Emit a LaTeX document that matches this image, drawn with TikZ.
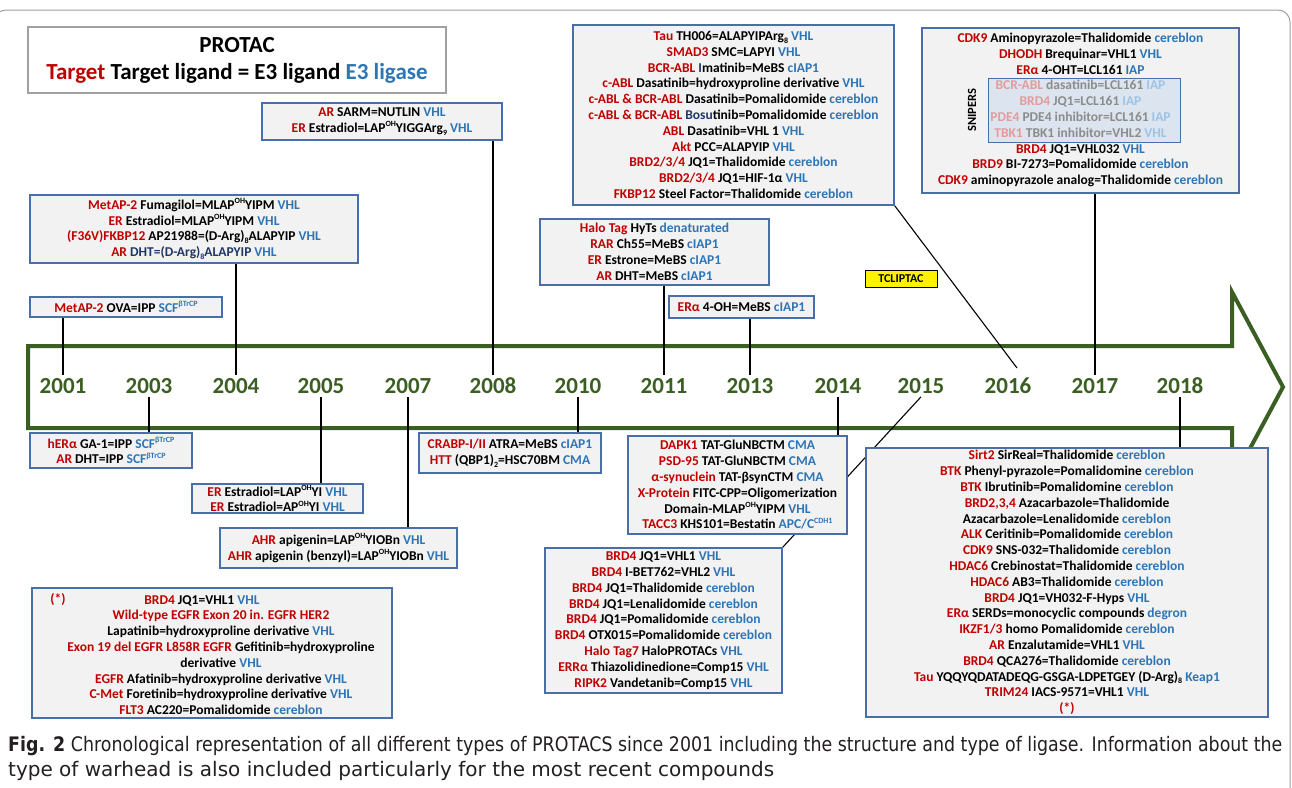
\documentclass[tikz,border=0pt]{standalone}
\usepackage{fontspec}
\usepackage{graphicx}
\setmainfont{Carlito}
\newfontfamily\capfont{DejaVu Sans}
\pgfdeclarelayer{back}
\pgfdeclarelayer{mid}
\pgfsetlayers{back,mid,main}
\definecolor{tred}{HTML}{C00000}
\definecolor{eblue}{HTML}{2E75B6}
\definecolor{navy}{HTML}{1F3864}
\definecolor{boxblue}{HTML}{4A6EA8}
\definecolor{boxfill}{HTML}{F2F2F2}
\definecolor{dgreen}{HTML}{3B5E23}
\definecolor{fred}{HTML}{E39B9B}
\definecolor{fgray}{HTML}{8C8C8C}
\definecolor{fblue}{HTML}{9DC3E6}
\definecolor{snipfill}{HTML}{DCE4EF}
\definecolor{framegray}{HTML}{A0A0A0}
\definecolor{capgray}{HTML}{231F20}
\newcommand{\tgt}[1]{\textcolor{tred}{#1}}
\newcommand{\lig}[1]{\textcolor{eblue}{#1}}
\newcommand{\fr}[1]{\textcolor{fred}{#1}}
\newcommand{\fg}[1]{\textcolor{fgray}{#1}}
\newcommand{\fb}[1]{\textcolor{fblue}{#1}}
\newcommand{\sups}[1]{\raisebox{0.42em}{\fontsize{8}{8}\selectfont #1}}
\newcommand{\subs}[1]{\raisebox{-0.22em}{\fontsize{8}{8}\selectfont #1}}
\tikzset{
  boxfont/.style={font=\fontsize{13.5}{15.8}\selectfont\bfseries},
  pbox/.style={draw=boxblue, line width=1.3pt, fill=boxfill, align=center, inner sep=0pt, boxfont},
  ptext/.style={align=center, inner sep=0pt, boxfont},
  sz/.style n args={2}{minimum width=#1pt, minimum height=#2pt},
  conn/.style={black, line width=1.1pt},
  yr/.style={font=\fontsize{23}{23}\selectfont\bfseries, text=dgreen, inner sep=3pt},
  captext/.style={anchor=base west, inner sep=0pt, font=\capfont\fontsize{20}{24}\selectfont, text=capgray},
}
\begin{document}
\begin{tikzpicture}[x=1pt,y=-1pt]
\useasboundingbox (0,0) rectangle (1292,787);
% frame
\draw[framegray, line width=1pt, rounded corners=12pt] (-6,10) rectangle (1290,800);
% arrow
\begin{pgfonlayer}{back}
\draw[dgreen, line width=4pt, fill=white, line join=miter] (28,346) -- (1232,346) -- (1232,292) -- (1283,387) -- (1232,482) -- (1232,428) -- (28,428) -- cycle;
\end{pgfonlayer}
% years
\node[yr] (y2001) at (63,386) {2001};
\node[yr] (y2003) at (149,386) {2003};
\node[yr] (y2004) at (236,386) {2004};
\node[yr] (y2005) at (321,386) {2005};
\node[yr] (y2007) at (408,386) {2007};
\node[yr] (y2008) at (493,386) {2008};
\node[yr] (y2010) at (578,386) {2010};
\node[yr] (y2011) at (664,386) {2011};
\node[yr] (y2013) at (750,386) {2013};
\node[yr] (y2014) at (838,386) {2014};
\node[yr] (y2015) at (921,386) {2015};
\node[yr] (y2016) at (1008,386) {2016};
\node[yr] (y2017) at (1095,386) {2017};
\node[yr] (y2018) at (1180,386) {2018};
\coordinate (c2016) at (1017,368);
% legend
\node[draw=framegray, line width=1.3pt, fill=white, align=center, inner sep=0pt, sz={418}{66}, font=\fontsize{23}{27}\selectfont\bfseries] (leg) at (237,60)
 {PROTAC\\ \tgt{Target} Target ligand = E3 ligand \lig{E3 ligase}};
% boxes above
\node[pbox, sz={240}{37}] (b2008) at (382,121.5)
 {\tgt{AR} SARM=NUTLIN \lig{VHL}\\
  \tgt{ER} Estradiol=LAP\sups{OH}YIGGArg\subs{9} \lig{VHL}};
\node[pbox, sz={328}{68}] (b2004) at (194,229)
 {\tgt{MetAP-2} Fumagilol=MLAP\sups{OH}YIPM \lig{VHL}\\
  \tgt{ER} Estradiol=MLAP\sups{OH}YIPM \lig{VHL}\\
  \tgt{(F36V)FKBP12} AP21988=(D-Arg)\subs{8}ALAPYIP \lig{VHL}\\
  \tgt{AR} \textcolor{navy}{DHT=(D-Arg)\subs{8}ALAPYIP} \lig{VHL}};
\node[pbox, sz={192}{20}] (b2001) at (126,307)
 {\tgt{MetAP-2} OVA=IPP \lig{SCF\sups{βTrCP}}};
\node[pbox, sz={321}{180}] (btop) at (733.5,115)
 {\tgt{Tau} TH006=ALAPYIPArg\subs{8} \lig{VHL}\\
  \tgt{SMAD3} SMC=LAPYI \lig{VHL}\\
  \tgt{BCR-ABL} \textcolor{navy}{I}matinib=MeBS \lig{cIAP1}\\
  \tgt{c-ABL} Dasatinib=hydroxyproline derivative \lig{VHL}\\
  \tgt{c-ABL \& BCR-ABL} Dasatinib=Pomalidomide \lig{cereblon}\\
  \tgt{c-ABL \& BCR-ABL} \textcolor{navy}{Bosu}tinib=Pomalidomide \lig{cereblon}\\
  \tgt{ABL} Dasatinib=VHL 1 \lig{VHL}\\
  \tgt{Akt} PCC=ALAPYIP \lig{VHL}\\
  \tgt{BRD2/3/4} JQ1=Thalidomide \lig{cereblon}\\
  \tgt{BRD2/3/4} JQ1=HIF-1α \lig{VHL}\\
  \tgt{FKBP12} Steel Factor=Thalidomide \lig{cereblon}};
\node[pbox, sz={229}{66}] (bhalo) at (654.5,252)
 {\tgt{Halo Tag} HyTs \lig{denaturated}\\
  \tgt{RAR} Ch55=MeBS \lig{cIAP1}\\
  \tgt{ER} Estrone=MeBS \lig{cIAP1}\\
  \tgt{AR} DHT=MeBS \lig{cIAP1}};
\node[pbox, sz={145}{22}] (b2013) at (741.5,307)
 {\tgt{ERα} 4-OH=MeBS \lig{cIAP1}};
\node[draw=black, line width=0.8pt, fill=yellow, inner sep=0pt, sz={72}{17}, font=\fontsize{12}{12}\selectfont\bfseries] (tcl) at (901,278.5) {TCLIPTAC};
\node[pbox, sz={317}{165}] (b2017) at (1080.5,110.5) {};
\node[draw=boxblue, line width=1pt, fill=snipfill, inner sep=0pt, sz={192}{64}] (snip) at (1084,110) {};
\node[ptext] (t2017) at (1080.5,110)
 {\tgt{CDK9} Aminopyrazole=Thalidomide \lig{cereblon}\\
  \tgt{DHODH} Brequinar=VHL1 \lig{VHL}\\
  \tgt{ERα} 4-OHT=LCL161 \lig{IAP}\\
  \fr{BCR-ABL} \fg{dasatinib=LCL161} \fb{IAP}\\
  \fr{BRD4} \fg{JQ1=LCL161} \fb{IAP}\\
  \fr{PDE4} \fg{PDE4 inhibitor=LCL161} \fb{IAP}\\
  \fr{TBK1} \fg{TBK1 inhibitor=VHL2} \fb{VHL}\\
  \tgt{BRD4} JQ1=VHL032 \lig{VHL}\\
  \tgt{BRD9} BI-7273=Pomalidomide \lig{cereblon}\\
  \tgt{CDK9} aminopyrazole analog=Thalidomide \lig{cereblon}};
\node[rotate=90, inner sep=0pt, font=\fontsize{12.5}{12.5}\selectfont\bfseries] (snipL) at (972,110) {SNIPERS};
% boxes below
\node[pbox, sz={162}{35}] (b2003) at (111,450.5)
 {\tgt{hERα} GA-1=IPP \lig{SCF\sups{βTrCP}}\\
  \tgt{AR} DHT=IPP \lig{SCF\sups{βTrCP}}};
\node[pbox, sz={171}{29}] (b2005) at (277.5,498.5)
 {\tgt{ER} Estradiol=LAP\sups{OH}YI \lig{VHL}\\
  \tgt{ER} Estradiol=AP\sups{OH}YI \lig{VHL}};
\node[pbox, sz={237}{40}] (b2007) at (338.5,548)
 {\tgt{AHR} apigenin=LAP\sups{OH}YIOBn \lig{VHL}\\
  \tgt{AHR} apigenin (benzyl)=LAP\sups{OH}YIOBn \lig{VHL}};
\node[pbox, sz={182}{40}] (b2010) at (510,453)
 {\tgt{CRABP-I/II} ATRA=MeBS \lig{cIAP1}\\
  \tgt{HTT} (QBP1)\subs{2}=HSC70BM \lig{CMA}};
\node[pbox, sz={219}{98}] (b2014) at (737.5,485)
 {\tgt{DAPK1} TAT-GluNBCTM \lig{CMA}\\
  \tgt{PSD-95} TAT-GluNBCTM \lig{CMA}\\
  \tgt{α-synuclein} TAT-βsynCTM \lig{CMA}\\
  \tgt{X-Protein} FITC-CPP=Oligomerization\\
  Domain-MLAP\sups{OH}YIPM \lig{VHL}\\
  \tgt{TACC3} KHS101=Bestatin \lig{APC/C\sups{CDH1}}};
\node[pbox, sz={237}{145}] (bmid) at (663.5,620.5)
 {\tgt{BRD4} JQ1=VHL1 \lig{VHL}\\
  \tgt{BRD4} I-BET762=VHL2 \lig{VHL}\\
  \tgt{BRD4} JQ1=Thalidomide \lig{cereblon}\\
  \tgt{BRD4} JQ1=Lenalidomide \lig{cereblon}\\
  \tgt{BRD4} JQ1=Pomalidomide \lig{cereblon}\\
  \tgt{BRD4} OTX015=Pomalidomide \lig{cereblon}\\
  \tgt{Halo Tag7} HaloPROTACs \lig{VHL}\\
  \tgt{ERRα} Thiazolidinedione=Comp15 \lig{VHL}\\
  \tgt{RIPK2} Vandetanib=Comp15 \lig{VHL}};
\node[pbox, sz={360}{130}] (bleft) at (212,653) {};
\node[ptext] (tleft) at (221,655)
 {\tgt{BRD4} JQ1=VHL1 \lig{VHL}\hspace*{38pt}\\
  \tgt{Wild-type EGFR Exon 20 in. EGFR HER2}\\
  Lapatinib=hydroxyproline derivative \lig{VHL}\\
  \tgt{Exon 19 del EGFR L858R EGFR} Gefitinib=hydroxyproline\\
  derivative \lig{VHL}\\
  \tgt{EGFR} Afatinib=hydroxyproline derivative \lig{VHL}\\
  \tgt{C-Met} Foretinib=hydroxyproline derivative \lig{VHL}\\
  \tgt{FLT3} AC220=Pomalidomide \lig{cereblon}};
\node[ptext, text=tred] (star1) at (58,600) {(*)};
\node[pbox, sz={402}{269}] (bright) at (1067,582.5)
 {\tgt{Sirt2} SirReal=Thalidomide \lig{cereblon}\\
  \tgt{BTK} Phenyl-pyrazole=Pomalidomine \lig{cereblon}\\
  \tgt{BTK} Ibrutinib=Pomalidomine \lig{cereblon}\\
  \tgt{BRD2,3,4} Azacarbazole=Thalidomide\\
  Azacarbazole=Lenalidomide \lig{cereblon}\\
  \tgt{ALK} Ceritinib=Pomalidomide \lig{cereblon}\\
  \tgt{CDK9} SNS-032=Thalidomide \lig{cereblon}\\
  \tgt{HDAC6} Crebinostat=Thalidomide \lig{cereblon}\\
  \tgt{HDAC6} AB3=Thalidomide \lig{cereblon}\\
  \tgt{BRD4} JQ1=VH032-F-Hyps \lig{VHL}\\
  \tgt{ERα} SERDs=monocyclic compounds \lig{degron}\\
  \tgt{IKZF1/3} homo Pomalidomide \lig{cereblon}\\
  \tgt{AR} Enzalutamide=VHL1 \lig{VHL}\\
  \tgt{BRD4} QCA276=Thalidomide \lig{cereblon}\\
  \tgt{Tau} YQQYQDATADEQG-GSGA-LDPETGEY (D-Arg)\subs{8} \lig{Keap1}\\
  \tgt{TRIM24} IACS-9571=VHL1 \lig{VHL}\\
  \tgt{(*)}};
% connectors
\begin{pgfonlayer}{mid}
\draw[conn] (b2001.south -| y2001) -- (y2001.north);
\draw[conn] (b2004.south -| y2004) -- (y2004.north);
\draw[conn] (b2008.south -| y2008) -- (y2008.north);
\draw[conn] (bhalo.south -| y2011) -- (y2011.north);
\draw[conn] (b2013.south -| y2013) -- (y2013.north);
\draw[conn] (b2017.south -| y2017) -- (y2017.north);
\draw[conn] (btop.south east) -- (c2016);
\draw[conn] (y2003.south) -- (y2003.south |- b2003.north);
\draw[conn] (y2005.south) -- (y2005.south |- b2005.north);
\draw[conn] (y2007.south) -- (y2007.south |- b2007.north);
\draw[conn] (y2010.south) -- (y2010.south |- b2010.north);
\draw[conn] (y2014.south) -- (y2014.south |- b2014.north);
\draw[conn] (y2018.south) -- (y2018.south |- bright.north);
\draw[conn] (y2015.south) -- (bmid.north east);
\end{pgfonlayer}
% caption
\node[captext] (cap1) at (8,751)
 {\resizebox{1274pt}{\height}{\textbf{Fig. 2} Chronological representation of all different types of PROTACS since 2001 including the structure and type of ligase. Information about the}};
\node[captext] (cap2) at (8,776)
 {type of warhead is also included particularly for the most recent compounds};
\end{tikzpicture}
\end{document}
